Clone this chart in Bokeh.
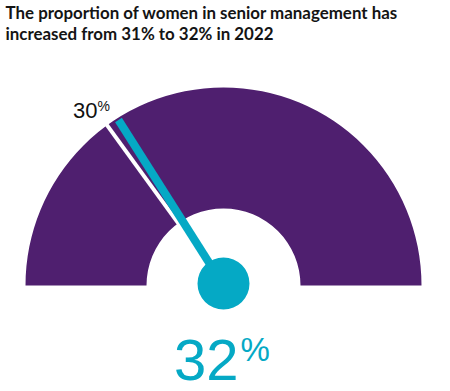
import math
from bokeh.plotting import figure
from bokeh.models import Range1d, Label
from bokeh.embed import file_html
from bokeh.resources import INLINE

# ---- data ----
title_lines = ["The proportion of women in senior management has",
               "increased from 31% to 32% in 2022"]
gauge_min = 0
gauge_max = 100
previous_value = 30
current_value = 32

PURPLE = "#4f1f6f"
TEAL = "#05a9c5"

W, H = 442, 383
p = figure(width=W, height=H, output_backend="svg", toolbar_location=None,
           x_range=Range1d(0, W), y_range=Range1d(0, H), min_border=0,
           x_axis_location=None, y_axis_location=None, match_aspect=False)
p.grid.visible = False
p.outline_line_color = None
p.background_fill_color = "white"
p.border_fill_color = "white"

cx, cy = 223, 98
r_in, r_out = 77, 198

def val_to_angle(v):
    return math.pi * (1 - (v - gauge_min) / (gauge_max - gauge_min))

# gauge body
p.annular_wedge(x=[cx], y=[cy], inner_radius=r_in, outer_radius=r_out,
                start_angle=0, end_angle=math.pi, color=PURPLE, line_color=None)

# previous value marker (white line)
a_prev = val_to_angle(previous_value)
p.segment(x0=[cx + (r_in - 2) * math.cos(a_prev)], y0=[cy + (r_in - 2) * math.sin(a_prev)],
          x1=[cx + (r_out + 3) * math.cos(a_prev)], y1=[cy + (r_out + 3) * math.sin(a_prev)],
          line_color="white", line_width=4)

# needle for current value
a_cur = val_to_angle(current_value)
p.segment(x0=[cx], y0=[cy],
          x1=[cx + (r_out - 2) * math.cos(a_cur)], y1=[cy + (r_out - 2) * math.sin(a_cur)],
          line_color=TEAL, line_width=8, line_cap="butt")
p.circle(x=[cx], y=[cy + 2], radius=26, color=TEAL, line_color=None)

# label for previous value
lx = cx + 206 * math.cos(a_prev)
ly = cy + 206 * math.sin(a_prev)
p.add_layout(Label(x=lx - 5, y=ly + 8, text=str(previous_value), text_align="right",
                   text_baseline="alphabetic", text_font="Liberation Sans",
                   text_font_size="22px", text_color="#111111"))
p.add_layout(Label(x=lx - 5, y=ly + 13, text="%", text_align="left",
                   text_baseline="alphabetic", text_font="Liberation Sans",
                   text_font_size="14px", text_color="#111111"))

# big current value
p.add_layout(Label(x=cx + 15, y=24, text=str(current_value), text_align="right",
                   text_baseline="alphabetic", text_font="Liberation Sans",
                   text_font_size="58px", text_color=TEAL))
p.add_layout(Label(x=cx + 17, y=34, text="%", text_align="left",
                   text_baseline="alphabetic", text_font="Liberation Sans",
                   text_font_size="33px", text_color=TEAL))

# title
for i, line in enumerate(title_lines):
    p.add_layout(Label(x=5, y=371 - 21 * i, text=line, text_align="left",
                       text_baseline="alphabetic", text_font="Lato",
                       text_font_style="bold", text_font_size="16.9px",
                       text_color="#141414"))

open("out.html", "w").write(file_html(p, INLINE))
